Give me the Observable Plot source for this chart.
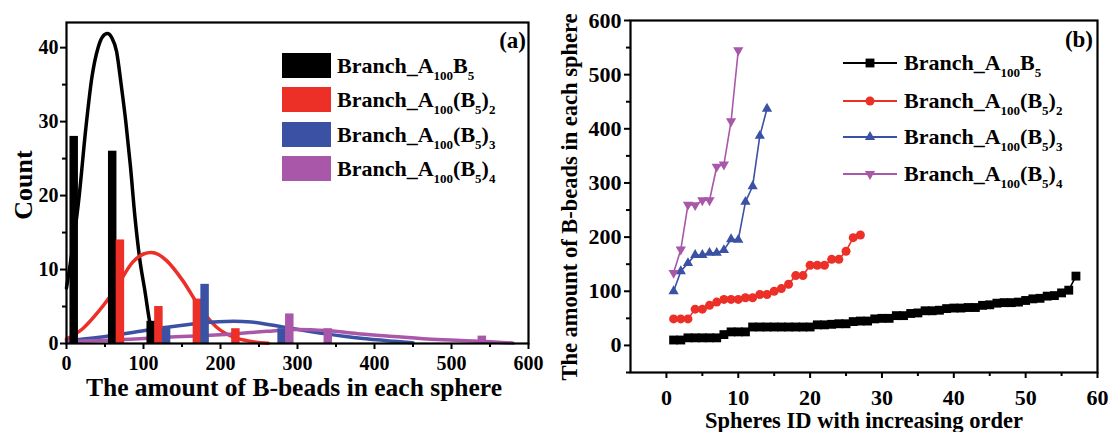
<!DOCTYPE html>
<html><head><meta charset="utf-8">
<script src="https://cdn.jsdelivr.net/npm/d3@7"></script>
<script src="https://cdn.jsdelivr.net/npm/@observablehq/plot@0.6"></script>
<style>
body{margin:0;background:#fff;}
#wrap{position:relative;width:1110px;height:432px;overflow:hidden;background:#fff;}
#wrap svg{position:absolute;top:0;}
</style></head><body><div id="wrap"></div>
<script>
// ---------- shared ----------
const seriesNames = ["Branch_A100B5", "Branch_A100(B5)2", "Branch_A100(B5)3", "Branch_A100(B5)4"];
const seriesColors = ["#000000", "#ec2f27", "#3a51a4", "#a957a9"];
const legendParts = [
  [["Branch_A",0],["100",1],["B",0],["5",1]],
  [["Branch_A",0],["100",1],["(B",0],["5",1],[")",0],["2",1]],
  [["Branch_A",0],["100",1],["(B",0],["5",1],[")",0],["3",1]],
  [["Branch_A",0],["100",1],["(B",0],["5",1],[")",0],["4",1]]
];

// ---------- panel (a): histogram ----------
const histBlackX = [10, 60, 110],        histBlackN = [28, 26, 3];
const histRedX = [70, 120, 170, 220],    histRedN = [14, 5, 6, 2];
const histBlueX = [130, 180, 280],       histBlueN = [2, 8, 2];
const histPurpleX = [290, 340, 540],     histPurpleN = [4, 2, 1];

// fitted curves
const fitBlackX = [0, 8, 16, 25, 33, 41, 47, 53, 59, 65, 71, 77, 83, 89, 95, 102, 108, 113, 119];
const fitBlackY = [7.5, 13, 19.5, 29, 36, 40, 41.5, 41.9, 41.3, 39.5, 35, 30, 24, 17, 11.5, 7, 3, 1.2, 0.3];
const fitRedX = [0, 21, 43, 65, 86, 100, 110, 120, 130, 151, 173, 195, 217, 238, 262];
const fitRedY = [0.6, 2, 4.5, 7.6, 11, 12.1, 12.3, 12, 11.2, 8.5, 4.9, 2.2, 0.85, 0.3, 0.05];
const fitBlueX = [0, 43, 86, 130, 173, 217, 240, 260, 295, 338, 382, 425, 450];
const fitBlueY = [0.4, 0.85, 1.5, 2.2, 2.75, 3.0, 2.9, 2.6, 2.0, 1.3, 0.7, 0.3, 0.1];
const fitPurpleX = [0, 43, 130, 217, 260, 300, 338, 382, 425, 469, 512, 556, 580];
const fitPurpleY = [0.3, 0.4, 0.85, 1.3, 1.65, 1.9, 1.75, 1.3, 0.95, 0.6, 0.4, 0.2, 0.05];

const xTicksA = [0, 100, 200, 300, 400, 500, 600];
const xMinorA = [50, 150, 250, 350, 450, 550];
const yTicksA = [0, 10, 20, 30, 40];
const yMinorA = [5, 15, 25, 35];

// ---------- panel (b): sorted amounts ----------
const sphereBlack = [10,10,14,14,14,14,14,20,25,25,25,34,34,34,34,34,34,34,34,34,38,38,39,40,40,44,45,45,49,50,50,55,55,59,60,64,64,65,68,69,69,70,70,74,75,78,79,79,80,83,86,87,91,92,97,102,128];
const sphereRed = [49,49,49,67,67,74,80,85,85,85,88,88,94,94,100,105,113,129,129,148,148,148,159,159,174,199,204];
const sphereBlue = [100,137,152,167,167,171,171,176,196,195,265,294,387,437];
const spherePurple = [134,177,260,259,268,268,330,334,414,545];

const xTicksB = [0, 10, 20, 30, 40, 50, 60];
const xMinorB = [5, 15, 25, 35, 45, 55];
const yTicksB = [0, 100, 200, 300, 400, 500, 600];
const yMinorB = [-50, 50, 150, 250, 350, 450, 550];

// ---------- build tables ----------
const toRows = (xs, ys, k) => xs.map((x, i) => ({x, y: ys[i], s: seriesNames[k]}));
const bars = [
  ...toRows(histBlackX, histBlackN, 0), ...toRows(histRedX, histRedN, 1),
  ...toRows(histBlueX, histBlueN, 2), ...toRows(histPurpleX, histPurpleN, 3)
];
const fits = [
  ...toRows(fitBlackX, fitBlackY, 0), ...toRows(fitRedX, fitRedY, 1),
  ...toRows(fitBlueX, fitBlueY, 2), ...toRows(fitPurpleX, fitPurpleY, 3)
];
const seqRows = (vals, k) => vals.map((v, i) => ({id: i + 1, v, s: seriesNames[k]}));
const seqs = [seqRows(sphereBlack, 0), seqRows(sphereRed, 1), seqRows(sphereBlue, 2), seqRows(spherePurple, 3)];

const fontFam = "'Liberation Serif', 'Times New Roman', serif";
const colorScale = {domain: seriesNames, range: seriesColors};

const plotA = Plot.plot({
  width: 555, height: 432,
  marginLeft: 66, marginRight: 27, marginTop: 22, marginBottom: 89,
  x: {domain: [0, 600]},
  y: {domain: [0, 43.4]},
  color: colorScale,
  style: {fontFamily: fontFam, fontWeight: "bold", fontSize: "20px", color: "black", background: "white"},
  marks: [
    Plot.line(fits, {x: "x", y: "y", z: "s", stroke: "s", strokeWidth: 3.5, curve: "monotone-x"}),
    Plot.rectY(bars, {x1: d => d.x - 5.5, x2: d => d.x + 5.5, y: "y", fill: "s"}),
    Plot.frame({stroke: "black", strokeWidth: 2.2}),
    Plot.axisX({ticks: xTicksA, tickSize: 6, tickPadding: 6, strokeWidth: 2, fontSize: 20, label: null}),
    Plot.axisX({ticks: xMinorA, tickSize: 4, strokeWidth: 2, text: null, label: null}),
    Plot.axisY({ticks: yTicksA, tickSize: 6, tickPadding: 2, strokeWidth: 2, fontSize: 20, label: null}),
    Plot.axisY({ticks: yMinorA, tickSize: 4, strokeWidth: 2, text: null, label: null})
  ]
});

const markSyms = ["square", "circle", "triangle", "triangle"];
const markR = [5, 4.5, 3.8, 3.8];
const markRot = [0, 0, 0, 180];

const plotB = Plot.plot({
  width: 555, height: 432,
  marginLeft: 75, marginRight: 13, marginTop: 20, marginBottom: 60,
  x: {domain: [-5, 60]},
  y: {domain: [-50, 600]},
  color: colorScale,
  style: {fontFamily: fontFam, fontWeight: "bold", fontSize: "22px", color: "black", background: "white"},
  marks: [
    ...seqs.map((rows, k) => Plot.line(rows, {x: "id", y: "v", stroke: "s", strokeWidth: 1.6})),
    ...seqs.map((rows, k) => Plot.dot(rows, {x: "id", y: "v", fill: "s", symbol: markSyms[k], r: markR[k], rotate: markRot[k], stroke: "none"})),
    Plot.frame({stroke: "black", strokeWidth: 2.2}),
    Plot.axisX({ticks: xTicksB, tickSize: 6, tickPadding: 11, strokeWidth: 2, fontSize: 22, label: null}),
    Plot.axisX({ticks: xMinorB, tickSize: 4, strokeWidth: 2, text: null, label: null}),
    Plot.axisY({ticks: yTicksB, tickSize: 6, tickPadding: 3, strokeWidth: 2, fontSize: 22, label: null}),
    Plot.axisY({ticks: yMinorB, tickSize: 4, strokeWidth: 2, text: null, label: null})
  ]
});

const wrap = document.getElementById("wrap");
plotA.style.left = "0px";
plotB.style.left = "555px";
wrap.appendChild(plotA);
wrap.appendChild(plotB);

function richText(g, x, y, parts, size, subSize, shift) {
  const t = g.append("text").attr("x", x).attr("y", y).attr("text-anchor", "start")
    .attr("font-size", size).attr("font-weight", "bold").attr("font-family", fontFam).attr("fill", "black");
  let down = false;
  for (const [s, sub] of parts) {
    const ts = t.append("tspan").text(s);
    if (sub) {
      ts.attr("font-size", subSize);
      if (!down) { ts.attr("dy", shift); down = true; }
    } else if (down) { ts.attr("dy", -shift); down = false; }
  }
  return t;
}

// ----- annotations panel (a)
const ga = d3.select(plotA).append("g");
ga.append("text").attr("x", 294).attr("y", 396).attr("text-anchor", "middle")
  .attr("font-size", 25.5).attr("font-weight", "bold").attr("font-family", fontFam)
  .text("The amount of B-beads in each sphere");
ga.append("text").attr("transform", "translate(32,185) rotate(-90)").attr("text-anchor", "middle")
  .attr("font-size", 26).attr("font-weight", "bold").attr("font-family", fontFam).text("Count");
ga.append("text").attr("x", 526).attr("y", 48).attr("text-anchor", "end")
  .attr("font-size", 23).attr("font-weight", "bold").attr("font-family", fontFam).text("(a)");
const rowTopsA = [53, 87, 122, 156];
seriesNames.forEach((s, k) => {
  ga.append("rect").attr("x", 282).attr("y", rowTopsA[k]).attr("width", 49).attr("height", 25).attr("fill", seriesColors[k]);
  richText(ga, 337, rowTopsA[k] + 20, legendParts[k], 22, 13, 7);
});

// ----- annotations panel (b)
const gb = d3.select(plotB).append("g");
gb.append("text").attr("x", 309).attr("y", 428).attr("text-anchor", "middle")
  .attr("font-size", 22.5).attr("font-weight", "bold").attr("font-family", fontFam)
  .text("Spheres ID with increasing order");
gb.append("text").attr("transform", "translate(22,197) rotate(-90)").attr("text-anchor", "middle")
  .attr("font-size", 22.5).attr("font-weight", "bold").attr("font-family", fontFam)
  .text("The amount of B-beads in each sphere");
gb.append("text").attr("x", 538).attr("y", 47).attr("text-anchor", "end")
  .attr("font-size", 23).attr("font-weight", "bold").attr("font-family", fontFam).text("(b)");
const rowMidB = [63, 101, 137, 174];
const legSyms = [d3.symbolSquare, d3.symbolCircle, d3.symbolTriangle, d3.symbolTriangle];
seriesNames.forEach((s, k) => {
  gb.append("line").attr("x1", 288).attr("x2", 342).attr("y1", rowMidB[k]).attr("y2", rowMidB[k])
    .attr("stroke", seriesColors[k]).attr("stroke-width", 1.8);
  const r = markR[k];
  gb.append("path").attr("d", d3.symbol(legSyms[k], Math.PI * r * r)())
    .attr("transform", `translate(315,${rowMidB[k]}) rotate(${markRot[k]})`).attr("fill", seriesColors[k]);
  richText(gb, 349, rowMidB[k] + 7, legendParts[k], 22, 13, 7);
});
</script>
</body></html>
